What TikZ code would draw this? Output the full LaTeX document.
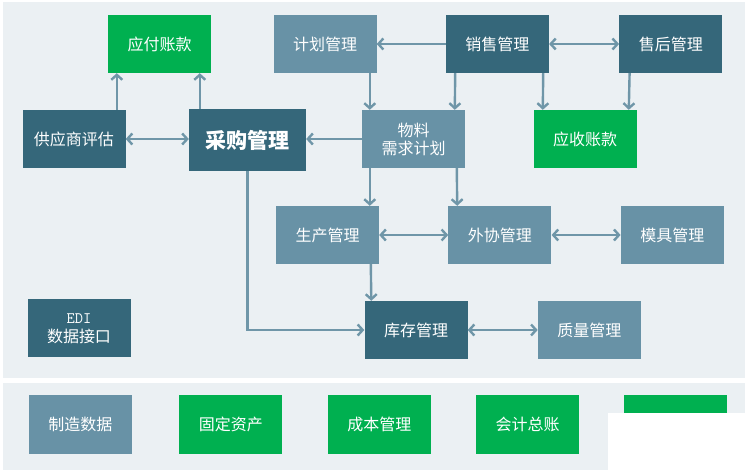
\documentclass[tikz,border=0pt]{standalone}
\usepackage{fontspec}
\setmainfont{Noto Sans CJK SC}
\usepackage{tikz}
\usetikzlibrary{arrows.meta, positioning}
\definecolor{panelgray}{RGB}{235,240,243}
\definecolor{deepteal}{RGB}{53,103,122}
\definecolor{steelblue}{RGB}{104,146,166}
\definecolor{ledgergreen}{RGB}{0,176,80}
\definecolor{flowblue}{RGB}{111,150,168}

\begin{document}
\begin{tikzpicture}[
  x=1pt, y=-1pt,
  box/.style={rectangle, minimum width=103pt, minimum height=58pt, inner sep=0pt,
              align=center, text=white, font=\fontsize{16}{18}\selectfont},
  darkbox/.style={box, fill=deepteal},
  lightbox/.style={box, fill=steelblue},
  greenbox/.style={box, fill=ledgergreen},
  arrow/.style={-{Straight Barb[length=5pt,width=11pt]}, line width=2.4pt, color=flowblue},
  twoway/.style={{Straight Barb[length=5pt,width=11pt]}-{Straight Barb[length=5pt,width=11pt]},
                 line width=2.4pt, color=flowblue},
]
  \useasboundingbox[fill=white] (0,0) rectangle (748,473);
  \fill[panelgray] (3,2) rectangle (745,378);
  \fill[panelgray] (3,383) rectangle (745,470);

  \node[lightbox] (jihua) at (325,44) {计划管理};
  \node[darkbox, right=69pt of jihua] (xiaoshou) {销售管理};
  \node[darkbox, right=70pt of xiaoshou] (shouhou) {售后管理};
  \node[greenbox] (yingfu) at (159.5,44) {应付账款};
  \node[darkbox] (gongying) at (74,139) {供应商评估};
  \node[darkbox, minimum width=117pt, minimum height=62pt,
        font=\bfseries\fontsize{21}{24}\selectfont] (caigou) at (247.5,140) {采购管理};
  \node[lightbox] (wuliao) at (413.5,139) {物料\\需求计划};
  \node[greenbox] (yingshou) at (585,139) {应收账款};
  \node[lightbox] (shengchan) at (327.5,235) {生产管理};
  \node[lightbox, right=69pt of shengchan] (waixie) {外协管理};
  \node[lightbox, right=69pt of waixie] (moju) {模具管理};
  \node[darkbox] (kucun) at (416,330) {库存管理};
  \node[lightbox, right=70pt of kucun] (zhiliang) {质量管理};
  \node[darkbox, font=\fontsize{16}{19}\selectfont] (edi) at (79,328.5) {{\ttfamily EDI}\\数据接口};

  % bottom row
  \node[lightbox] (zhizao) at (80.5,424.5) {制造数据};
  \node[greenbox, right=47pt of zhizao] (guding) {固定资产};
  \node[greenbox, right=45pt of guding] (chengben) {成本管理};
  \node[greenbox, right=45pt of chengben] (kuaiji) {会计总账};
  \node[greenbox, right=44pt of kuaiji] (cutoff) {};
  \fill[white] (608,413) rectangle (748,473);

  \draw[twoway] (gongying.east) -- (gongying.east -| caigou.west);
  \draw[arrow] ([xshift=94.5pt]gongying.north west) -- ([xshift=9pt]yingfu.south west);
  \draw[arrow] ([xshift=11pt]caigou.north west) -- ([xshift=92pt]yingfu.south west);
  \draw[arrow] (xiaoshou.west) -- (jihua.east);
  \draw[twoway] (xiaoshou.east) -- (shouhou.west);
  \draw[arrow] (wuliao.west) -- (wuliao.west -| caigou.east);
  \draw[arrow] ([xshift=96.5pt]jihua.south west) -- ([xshift=8pt]wuliao.north west);
  \draw[arrow] ([xshift=9.5pt]xiaoshou.south west) -- ([xshift=93pt]wuliao.north west);
  \draw[arrow] ([xshift=97.5pt]xiaoshou.south west) -- ([xshift=9.5pt]yingshou.north west);
  \draw[arrow] ([xshift=10.5pt]shouhou.south west) -- ([xshift=95.5pt]yingshou.north west);
  \draw[arrow] ([xshift=8pt]wuliao.south west) -- ([xshift=94pt]shengchan.north west);
  \draw[arrow] ([xshift=95pt]wuliao.south west) -- ([xshift=9pt]waixie.north west);
  \draw[twoway] (shengchan.east) -- (waixie.west);
  \draw[twoway] (waixie.east) -- (moju.west);
  \draw[arrow] ([xshift=95pt]shengchan.south west) -- ([xshift=7pt]kucun.north west);
  \draw[arrow] ([xshift=58.5pt]caigou.south west) |- (kucun.west);
  \draw[twoway] (kucun.east) -- (zhiliang.west);
\end{tikzpicture}
\end{document}
